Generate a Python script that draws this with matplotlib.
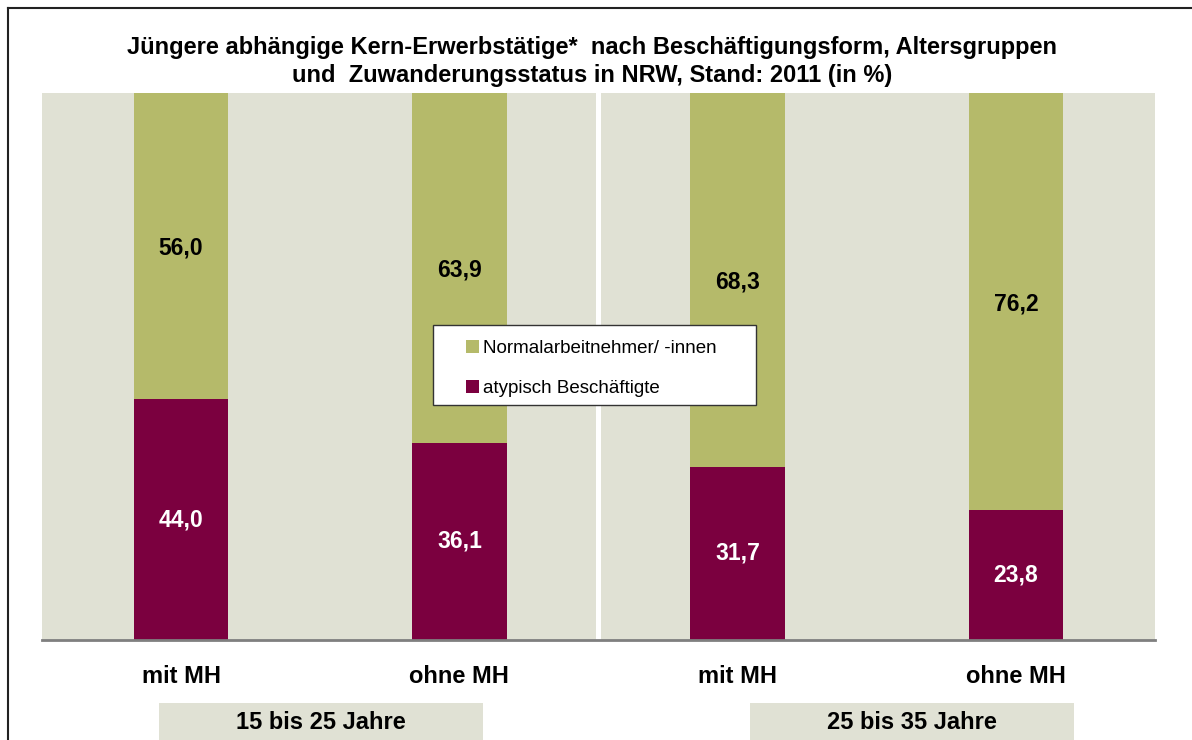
import matplotlib
matplotlib.use("Agg")
import matplotlib.pyplot as plt
from matplotlib.patches import Rectangle
from matplotlib.lines import Line2D
import numpy as np

# data
categories = ['mit MH', 'ohne MH', 'mit MH', 'ohne MH']
groups = ['15 bis 25 Jahre', '25 bis 35 Jahre']
atypisch = [44.0, 36.1, 31.7, 23.8]
normal = [56.0, 63.9, 68.3, 76.2]
series_names = ['Normalarbeitnehmer/ -innen', 'atypisch Beschäftigte']
title = ('Jüngere abhängige Kern-Erwerbstätige*  nach Beschäftigungsform, Altersgruppen\n'
         'und  Zuwanderungsstatus in NRW, Stand: 2011 (in %)')

green = '#B5BA6A'
maroon = '#7B003F'
bg = '#E0E1D4'

plt.rcParams['font.family'] = ['Liberation Sans', 'DejaVu Sans']

fig = plt.figure(figsize=(11.92, 7.40), dpi=100)
ax = fig.add_axes([42/1192, 1-640/740, (1155-42)/1192, (640-93)/740])

x = np.arange(len(categories))
w = 0.34

# background bands per age group
ax.axvspan(-0.5, 1.491, color=bg, zorder=0, lw=0)
ax.axvspan(1.509, 3.5, color=bg, zorder=0, lw=0)

ax.bar(x, atypisch, w, color=maroon, zorder=2)
ax.bar(x, normal, w, bottom=atypisch, color=green, zorder=2)

for i in range(len(x)):
    ax.text(x[i], atypisch[i]/2, f'{atypisch[i]:.1f}'.replace('.', ','),
            ha='center', va='center', color='white', fontsize=16.5, fontweight='bold', zorder=3)
    ax.text(x[i], atypisch[i] + normal[i]/2 - 0.4, f'{normal[i]:.1f}'.replace('.', ','),
            ha='center', va='center', color='black', fontsize=16.5, fontweight='bold', zorder=3)

ax.set_xlim(-0.5, 3.5)
ax.set_ylim(0, 100)
for s in ['top', 'right', 'left']:
    ax.spines[s].set_visible(False)
ax.spines['bottom'].set_color('#7f7f7f')
ax.spines['bottom'].set_linewidth(2)
ax.spines['bottom'].set_zorder(4)
ax.set_yticks([])
ax.set_xticks(x)
ax.set_xticklabels(categories, fontsize=17, fontweight='bold')
ax.tick_params(axis='x', length=0, pad=18)

# age group boxes below categories
trans = ax.get_xaxis_transform()
box_x = [(-0.0795, 1.085), (2.044, 3.209)]
for (x0, x1), g in zip(box_x, groups):
    ax.add_patch(Rectangle((x0, -0.25), x1 - x0, 0.135, transform=trans,
                           facecolor=bg, edgecolor='none', clip_on=False))
    ax.text((x0 + x1)/2, -0.150, g, transform=trans, ha='center', va='center',
            fontsize=17, fontweight='bold')

fig.text(0.497, 1-61.5/740, title, ha='center', va='center', fontsize=17,
         fontweight='bold', linespacing=1.33)

# legend box
ax.add_patch(Rectangle((0.3513, 0.4296), 0.2902, 0.1463, transform=ax.transAxes,
                       facecolor='white', edgecolor='#333333', lw=1, zorder=5))
handles = [Rectangle((0, 0), 1, 1, facecolor=green), Rectangle((0, 0), 1, 1, facecolor=maroon)]
leg = ax.legend(handles, series_names, loc='upper left',
                bbox_to_anchor=((466-42)/1113, (640-340)/547), fontsize=13.5,
                frameon=False, handlelength=0.7, handleheight=0.7, handletextpad=0.2,
                borderpad=0, labelspacing=1.2, borderaxespad=0)
leg.set_zorder(6)

# outer frame
fig.add_artist(Line2D([8/1192, 1], [1-8/740, 1-8/740], color='#222222', lw=1.5))
fig.add_artist(Line2D([8/1192, 8/1192], [0, 1-8/740], color='#222222', lw=1.5))

fig.savefig('out.png', dpi=100)
